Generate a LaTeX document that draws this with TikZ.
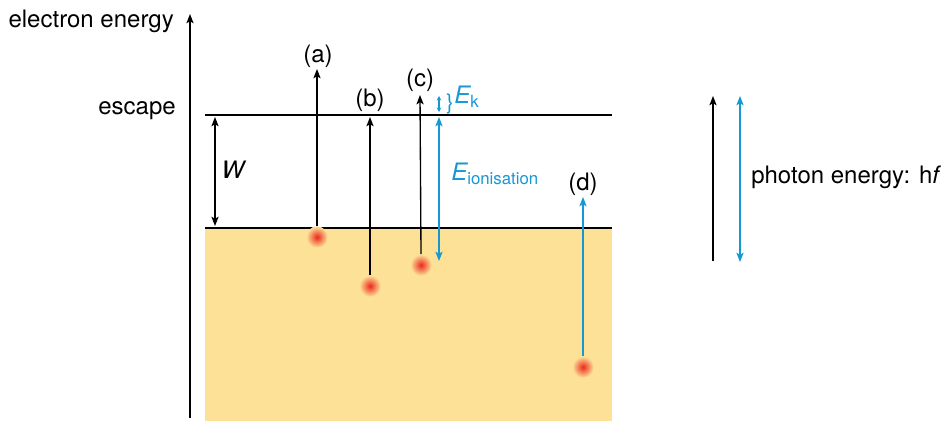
\documentclass[tikz,border=0pt]{standalone}
\usepackage{fontspec}
\setmainfont{TeX Gyre Heros}
\usetikzlibrary{positioning,arrows.meta}
\definecolor{metal}{RGB}{253,225,150}
\definecolor{ionblue}{RGB}{22,152,212}
\definecolor{hotred}{RGB}{236,40,30}

\begin{document}
\begin{tikzpicture}[x=0.75pt,y=-0.75pt,
    every node/.style={font=\fontsize{18}{21}\selectfont,inner sep=0pt},
    up/.style={line width=1pt,-{Stealth[length=7pt,width=5.4pt,inset=1.6pt]}},
    updown/.style={line width=1pt,{Stealth[length=7pt,width=5.4pt,inset=1.6pt]}-{Stealth[length=7pt,width=5.4pt,inset=1.6pt]}},
    tiny/.style={line width=0.8pt,{Stealth[length=3.4pt,width=3.4pt]}-{Stealth[length=3.4pt,width=3.4pt]}},
    level/.style={line width=2.1pt},
    electron/.style={circle,minimum size=16pt,inner color=hotred,outer color=metal}]
  \useasboundingbox (0,0) rectangle (945,421);

  % metal and energy levels
  \fill[metal] (205,228) rectangle (612,421);
  \coordinate (escl) at (205,115); \coordinate (escr) at (612,115);
  \coordinate (ferl) at (205,228); \coordinate (ferr) at (612,228);
  \draw[level] (escl) -- (escr);
  \draw[level] (ferl) -- (ferr);

  % axis
  \coordinate (o) at (190,418); \coordinate (top) at (190,14);
  \draw[up] (o) -- (top);
  \node[anchor=east] (axis) at (174,21) {electron energy};
  \node[anchor=east] (esc) at (176,111) {escape};

  % work function
  \coordinate (w1) at (215,117); \coordinate (w2) at (215,226);
  \draw[updown] (w1) -- (w2);
  \node (W) at (233,170) {\itshape W};

  % electrons
  \node[electron] (ea) at (317,237) {};
  \node[electron] (eb) at (370,286) {};
  \node[electron] (ec) at (421,265) {};
  \node[electron] (ed) at (583,367) {};

  % (a)
  \coordinate (a0) at (317,226); \coordinate (a1) at (317,69);
  \draw[up] (a0) -- (a1);
  \node (la) at (318,56) {(a)};
  % (b)
  \coordinate (b1) at (370,117);
  \draw[up] (eb.north) -- (b1);
  \node (lb) at (370,100) {(b)};
  % (c)
  \coordinate (c1) at (420,95);
  \draw[up] (ec.north) -- (c1);
  \node (lc) at (420,80) {(c)};
  % (d)
  \coordinate (d1) at (583,197);
  \draw[up,ionblue] (ed.north) -- (d1);
  \node (ld) at (583,184) {(d)};

  % ionisation and kinetic energy
  \coordinate (i1) at (439,117); \coordinate (i2) at (439,261);
  \draw[updown,ionblue] (i1) -- (i2);
  \node[anchor=west,text=ionblue] (eion) at (451,174) {{\itshape E}\textsubscript{ionisation}};
  \coordinate (k1) at (439,96); \coordinate (k2) at (439,112);
  \draw[tiny,ionblue] (k1) -- (k2);
  \node[text=ionblue,font=\fontsize{16}{16}\selectfont] (br) at (450,104) {\}};
  \node[anchor=west,text=ionblue] (ek) at (454,97) {{\itshape E}\textsubscript{k}};

  % photon energy
  \coordinate (p0) at (713,261); \coordinate (p1) at (713,96);
  \draw[up] (p0) -- (p1);
  \coordinate (q0) at (740,96); \coordinate (q1) at (740,262);
  \draw[updown,ionblue] (q0) -- (q1);
  \node[anchor=west] (hf) at (751,177) {photon energy: h{\itshape f}};
\end{tikzpicture}
\end{document}
